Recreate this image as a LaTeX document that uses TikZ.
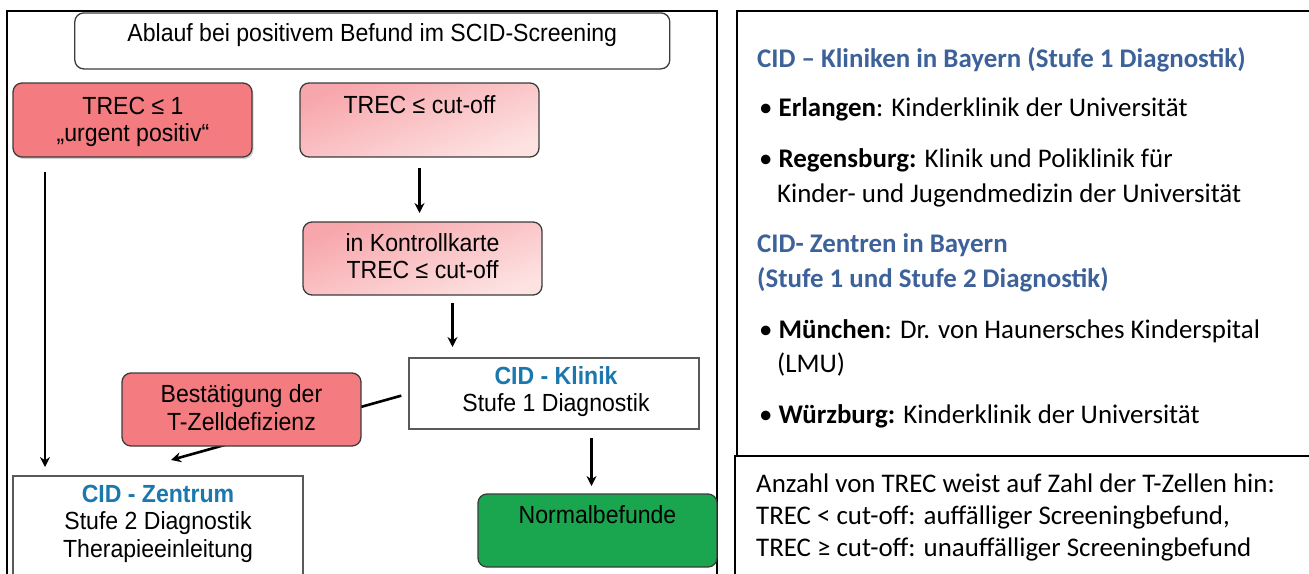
\documentclass[tikz,border=0pt]{standalone}
\usepackage{fontspec}
\setmainfont{Liberation Sans}
\newfontfamily\arialfont[FakeStretch=0.93]{Liberation Sans}
\newfontfamily\calibri{Carlito}
\usetikzlibrary{shapes.geometric, arrows.meta, shadows}
\definecolor{trecrot}{RGB}{244,123,128}
\definecolor{rosaoben}{RGB}{247,166,171}
\definecolor{rosaunten}{RGB}{253,226,226}
\definecolor{gruen}{RGB}{26,166,79}
\definecolor{rahmen}{RGB}{60,60,60}
\definecolor{cidblau}{RGB}{26,120,174}
\definecolor{kopfblau}{RGB}{61,97,153}
\tikzstyle{kasten} = [rectangle, rounded corners=9pt, draw=rahmen, line width=1.3pt, inner sep=0, outer sep=0]
\tikzstyle{rot} = [kasten, fill=trecrot]
\tikzstyle{rosa} = [kasten, top color=rosaoben, bottom color=rosaunten, shading angle=20]
\tikzstyle{weiss} = [rectangle, draw=rahmen!85, line width=1.3pt, fill=white, inner sep=0, outer sep=0]
\tikzstyle{gruenbox} = [kasten, fill=gruen]
\tikzstyle{pfeil} = [line width=2.6pt,->,>={Stealth[length=10pt,width=10pt]}]
\tikzstyle{txt} = [font=\arialfont\fontsize{24.8}{27.5}\selectfont, align=center, inner sep=0, anchor=base]
\tikzstyle{rtxt} = [font=\calibri\fontsize{26.9}{32}\selectfont, anchor=base west, inner sep=0]

\begin{document}
\begin{tikzpicture}[x=1pt,y=-1pt]
\useasboundingbox (0,0) rectangle (1309,573);
\clip (0,0) rectangle (1309,573);
% frames
\draw[line width=2pt] (7,600) -- (7,11) -- (717,11) -- (717,600);
\draw[line width=2pt] (737,455.5) -- (737,11) -- (1320,11);
\draw[line width=2pt] (735,600) -- (735,455.5) -- (1320,455.5);

% flow chart
\node[kasten, fill=white, minimum width=595pt, minimum height=56pt] (titel) at (372.3,40.9) {};
\node[txt] (titeltxt) at (372.3,41.7) {Ablauf bei positivem Befund im SCID-Screening};
\node[rot, minimum width=239pt, minimum height=74pt, drop shadow={shadow xshift=1.5pt, shadow yshift=-2pt, opacity=0.35}] (urgent) at (132.5,120) {};
\node[txt] (urgenttxt) at (133,141.7) {TREC ≤ 1\\„urgent positiv“};
\node[rosa, minimum width=239pt, minimum height=74pt] (cutoff) at (419.5,120) {};
\node[txt] (cutofftxt) at (419.5,113) {TREC ≤ cut-off};
\node[rosa, minimum width=239pt, minimum height=73pt] (kontroll) at (422.5,258.5) {};
\node[txt] (kontrolltxt) at (422.5,278.5) {in Kontrollkarte\\TREC ≤ cut-off};
\node[weiss, minimum width=290pt, minimum height=71pt] (klinik) at (554,393.5) {};
\node[txt] (kliniktxt) at (556,411.7) {\textcolor{cidblau}{\bfseries CID - Klinik}\\Stufe 1 Diagnostik};
\node[weiss, minimum width=290pt, minimum height=124pt] (zentrum) at (158,538) {};
\node[txt] (zentrumtxt) at (158,557) {\textcolor{cidblau}{\bfseries CID - Zentrum}\\Stufe 2 Diagnostik\\Therapieeinleitung};
\node[gruenbox, minimum width=239pt, minimum height=73pt] (normal) at (597.5,530.5) {};
\node[txt] (normaltxt) at (597.5,523) {Normalbefunde};

\coordinate (zentrumziel) at (171,460);
\draw[pfeil, shorten <=15pt, shorten >=9pt] ([xshift=32pt]urgent.south west) -- ([xshift=32pt]zentrum.north west);
\draw[pfeil, shorten <=11pt, shorten >=9pt] (cutoff.south) -- (cutoff.south |- kontroll.north);
\draw[pfeil, shorten <=8pt, shorten >=11pt] ([xshift=30pt]kontroll.south) -- ([xshift=30pt]kontroll.south |- klinik.north);
\draw[pfeil, shorten <=9pt, shorten >=8pt] ([xshift=-6pt]normal.north |- klinik.south) -- ([xshift=-6pt]normal.north);
\draw[pfeil, shorten <=8pt] (klinik.west) -- (zentrumziel);

\node[rot, minimum width=239pt, minimum height=73pt] (bestaetigung) at (241.5,409.5) {};
\node[txt] (bestaetigungtxt) at (241.5,430) {Bestätigung der\\T-Zelldefizienz};

% Kliniken und Zentren
\node[rtxt, text=kopfblau] (kopfa) at (757,67) {\bfseries CID – Kliniken in Bayern (Stufe 1 Diagnostik)};
\node[rtxt] (erlangen) at (759,116) {• \textbf{Erlangen}: Kinderklinik der Universität};
\node[rtxt] (regensburg) at (759,167.6) {• \textbf{Regensburg:} Klinik und Poliklinik für};
\node[rtxt] (regensburgb) at (777,202) {Kinder- und Jugendmedizin der Universität};
\node[rtxt, text=kopfblau] (kopfb) at (757,252.5) {\bfseries CID- Zentren in Bayern};
\node[rtxt, text=kopfblau] (kopfc) at (757,287) {\bfseries (Stufe 1 und Stufe 2 Diagnostik)};
\node[rtxt] (muenchen) at (759,338.5) {• \textbf{München}: Dr. von Haunersches Kinderspital};
\node[rtxt] (muenchenb) at (777,372.5) {(LMU)};
\node[rtxt] (wuerzburg) at (759,423) {• \textbf{Würzburg:} Kinderklinik der Universität};

% Hinweis
\node[rtxt] (hinweisa) at (756,492) {Anzahl von TREC weist auf Zahl der T-Zellen hin:};
\node[rtxt] (hinweisb) at (756,524) {TREC < cut-off: auffälliger Screeningbefund,};
\node[rtxt] (hinweisc) at (756,556) {TREC ≥ cut-off: unauffälliger Screeningbefund};
\end{tikzpicture}
\end{document}
